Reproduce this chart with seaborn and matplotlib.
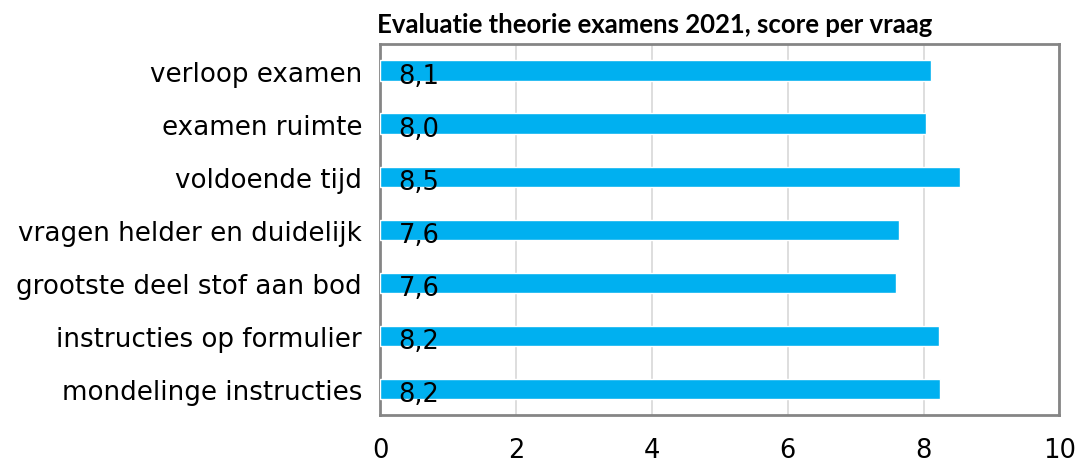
import numpy as np
import pandas as pd
import seaborn as sns
import matplotlib.pyplot as plt

questions = ['verloop examen', 'examen ruimte', 'voldoende tijd', 'vragen helder en duidelijk',
             'grootste deel stof aan bod', 'instructies op formulier', 'mondelinge instructies']
scores = [8.11, 8.04, 8.54, 7.64, 7.60, 8.22, 8.24]
score_labels = ['8,1', '8,0', '8,5', '7,6', '7,6', '8,2', '8,2']
xticks = [0, 2, 4, 6, 8, 10]

df = pd.DataFrame({'vraag': questions, 'score': scores})

sns.set_style('white')
plt.rcParams['font.family'] = ['DejaVu Sans']
plt.rcParams['text.color'] = 'black'
plt.rcParams['xtick.color'] = 'black'
plt.rcParams['ytick.color'] = 'black'

fig = plt.figure(figsize=(10.8, 4.64), dpi=100)
ax = fig.add_axes([0.352, 0.103, 0.629, 0.8])

sns.barplot(data=df, x='score', y='vraag', color='#00B0F0', saturation=1, width=0.38, ax=ax, zorder=3)

for i, lab in enumerate(score_labels):
    ax.text(0.27, i + 0.1, lab, fontsize=18.5, va='center', ha='left', color='black', zorder=4)

ax.set_xlim(0, 10)
ax.set_xticks(xticks)
ax.set_xticklabels([str(t) for t in xticks], fontsize=18.5)
ax.tick_params(axis='x', length=0, pad=16)
ax.tick_params(axis='y', length=0, pad=13, labelsize=18.8)
ax.grid(axis='x', color='#d4d4d4', linewidth=1.1, zorder=0)
ax.set_xlabel('')
ax.set_ylabel('')
for s in ax.spines.values():
    s.set_color('#858585')
    s.set_linewidth(2)

fig.text(0.349, 0.928, 'Evaluatie theorie examens 2021, score per vraag', fontsize=18.5,
         fontweight='bold', family=['Lato', 'DejaVu Sans'], ha='left')

fig.savefig('out.png', dpi=100)
